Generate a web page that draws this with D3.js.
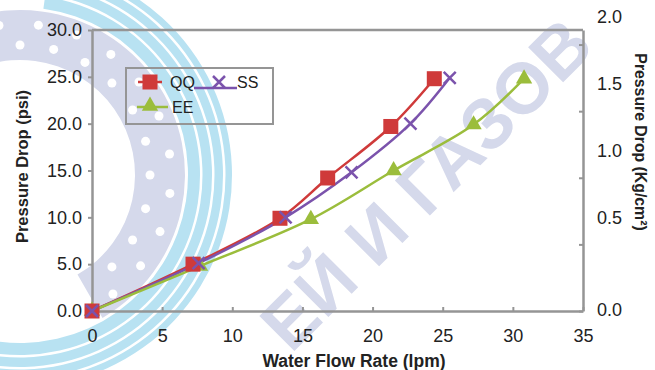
<!DOCTYPE html>
<html>
<head>
<meta charset="utf-8">
<script src="https://cdn.jsdelivr.net/npm/d3@7"></script>
<style>
  html, body { margin: 0; padding: 0; background: #fff; }
  svg { display: block; font-family: Arial, "Liberation Sans", sans-serif; }
</style>
</head>
<body>
<svg id="chart" width="655" height="370"></svg>
<script>
// ---- data -------------------------------------------------------------
const seriesNames = ["QQ", "SS", "EE"];
const qqFlow = [0, 7.2, 13.4, 16.8, 21.3, 24.4];
const qqDrop = [0, 5.0, 9.9, 14.2, 19.7, 24.8];
const ssFlow = [0, 7.6, 13.8, 18.5, 22.7, 25.5];
const ssDrop = [0, 5.1, 10.0, 14.8, 20.0, 24.9];
const eeFlow = [0, 7.7, 15.6, 21.5, 27.2, 30.8];
const eeDrop = [0, 4.8, 9.8, 15.0, 19.9, 24.8];
const flowTicks = [0, 5, 10, 15, 20, 25, 30, 35];
const psiTicks = [0, 5, 10, 15, 20, 25, 30];
const kgTicks = [0, 0.5, 1.0, 1.5, 2.0];
const PSI_PER_KG = 14.223;
const watermarkText = "ЕЙ И ГАЗОВ";

// ---- layout -----------------------------------------------------------
const plot = { left: 92, right: 583, top: 30, bottom: 311 };
const AXIS = "#959595";
const TEXT = "#222";
const colors = { QQ: "#cf3a3a", SS: "#7b53ac", EE: "#9bbd3c" };

const svg = d3.select("#chart");

const x = d3.scaleLinear().domain([0, 35]).range([plot.left, plot.right]);
const y = d3.scaleLinear().domain([0, 30]).range([plot.bottom, plot.top]);
const yKg = d3.scaleLinear().domain([0, 30 / PSI_PER_KG]).range([plot.bottom, plot.top]);
// the kg/cm² labels sit in their own column beside the frame
const kgLabelY = d3.scaleLinear().domain([0, 0.5, 2]).range([310, 218, 17]);

// ---- background watermark --------------------------------------------
const wm = svg.append("g").attr("class", "watermark");
const lav = "#d5d9eb", cyan = "#b8e2f2";
const cx = 20, cy = 175;
const arc = d3.arc();
const deg = Math.PI / 180;
wm.append("path")
  .attr("transform", `translate(${cx},${cy})`)
  .attr("d", arc({ innerRadius: 115, outerRadius: 165, startAngle: -40 * deg, endAngle: 150 * deg }))
  .attr("fill", lav);
wm.append("path")
  .attr("transform", `translate(${cx},${cy})`)
  .attr("d", arc({ innerRadius: 168, outerRadius: 212, startAngle: 8 * deg, endAngle: 190 * deg }))
  .attr("fill", cyan);
[180, 192, 203].forEach(r => {
  wm.append("path")
    .attr("transform", `translate(${cx},${cy})`)
    .attr("d", arc({ innerRadius: r, outerRadius: r + 2.5, startAngle: 8 * deg, endAngle: 190 * deg }))
    .attr("fill", "#fff");
});
d3.range(-30, 145, 15).forEach(a => {
  [130, 151].forEach((r, k) => {
    const t = (a + k * 7) * deg;
    wm.append("circle")
      .attr("cx", cx + r * Math.sin(t))
      .attr("cy", cy - r * Math.cos(t))
      .attr("r", 4.5).attr("fill", "#fff");
  });
});
wm.append("text")
  .attr("transform", "translate(426,184) rotate(-45)")
  .attr("text-anchor", "middle")
  .attr("dy", "0.35em")
  .attr("font-size", 72)
  .attr("font-weight", "bold")
  .attr("textLength", 432)
  .attr("lengthAdjust", "spacing")
  .attr("fill", lav)
  .text(watermarkText);

// ---- frame and axes ---------------------------------------------------
svg.append("line")
  .attr("x1", plot.left).attr("x2", plot.right)
  .attr("y1", plot.top).attr("y2", plot.top)
  .attr("stroke", AXIS).attr("stroke-width", 2.5);

function styleAxis(g) {
  g.select(".domain").attr("stroke", AXIS).attr("stroke-width", 2.5);
  g.selectAll(".tick line").attr("stroke", AXIS).attr("stroke-width", 2);
  g.selectAll(".tick text").attr("fill", TEXT).attr("font-size", 18)
    .attr("font-family", "Arial, 'Liberation Sans', sans-serif");
}

svg.append("g")
  .attr("transform", `translate(${plot.left},0)`)
  .call(d3.axisLeft(y).tickValues(psiTicks).tickFormat(d3.format(".1f"))
    .tickSizeInner(4).tickSizeOuter(0).tickPadding(6))
  .call(styleAxis);

svg.append("g")
  .attr("transform", `translate(${plot.right},0)`)
  .call(d3.axisRight(yKg).tickValues(kgTicks).tickFormat("")
    .tickSizeInner(-4).tickSizeOuter(0))
  .call(styleAxis);

svg.append("g")
  .attr("transform", `translate(0,${plot.bottom})`)
  .call(d3.axisBottom(x).tickValues(flowTicks).tickFormat(d3.format("d"))
    .tickSizeInner(-4).tickSizeOuter(0).tickPadding(18))
  .call(styleAxis);

svg.append("g").selectAll("text")
  .data(kgTicks)
  .join("text")
  .attr("x", 597)
  .attr("y", d => kgLabelY(d))
  .attr("dy", "0.35em")
  .attr("font-size", 18)
  .attr("fill", TEXT)
  .text(d3.format(".1f"));

// axis titles
svg.append("text")
  .attr("transform", `translate(28,${(90 + 243) / 2}) rotate(-90)`)
  .attr("text-anchor", "middle")
  .attr("font-size", 16.5).attr("font-weight", "bold").attr("fill", TEXT)
  .text("Pressure Drop (psi)");

svg.append("text")
  .attr("transform", `translate(635,142) rotate(90)`)
  .attr("text-anchor", "middle")
  .attr("font-size", 15.8).attr("font-weight", "bold").attr("fill", TEXT)
  .text("Pressure Drop (Kg/cm²)");

svg.append("text")
  .attr("x", 354).attr("y", 366.5)
  .attr("text-anchor", "middle")
  .attr("font-size", 17.5).attr("font-weight", "bold").attr("fill", TEXT)
  .text("Water Flow Rate (lpm)");

// ---- series -----------------------------------------------------------
const series = [
  { name: "QQ", pts: qqFlow.map((f, i) => [f, qqDrop[i]]) },
  { name: "SS", pts: ssFlow.map((f, i) => [f, ssDrop[i]]) },
  { name: "EE", pts: eeFlow.map((f, i) => [f, eeDrop[i]]) }
];

const line = d3.line()
  .x(d => x(d[0])).y(d => y(d[1]))
  .curve(d3.curveCatmullRom);

svg.append("g").selectAll("path")
  .data(series)
  .join("path")
  .attr("d", d => line(d.pts))
  .attr("fill", "none")
  .attr("stroke", d => colors[d.name])
  .attr("stroke-width", 2.5);

function drawMarker(g, name, px, py) {
  if (name === "QQ") {
    g.append("rect").attr("x", px - 7.5).attr("y", py - 7.5)
      .attr("width", 15).attr("height", 15).attr("fill", colors.QQ);
  } else if (name === "SS") {
    const s = 6;
    g.append("path")
      .attr("d", `M${px - s},${py - s}L${px + s},${py + s}M${px - s},${py + s}L${px + s},${py - s}`)
      .attr("stroke", colors.SS).attr("stroke-width", 2.5).attr("fill", "none");
  } else {
    g.append("path")
      .attr("transform", `translate(${px},${py})`)
      .attr("d", d3.symbol(d3.symbolTriangle, 115)())
      .attr("fill", colors.EE);
  }
}

const markers = svg.append("g");
["EE", "QQ", "SS"].forEach(n => {
  const s = series.find(d => d.name === n);
  s.pts.forEach(p => drawMarker(markers, n, x(p[0]), y(p[1])));
});

// ---- legend -----------------------------------------------------------
const lg = svg.append("g");
lg.append("rect")
  .attr("x", 126).attr("y", 68).attr("width", 147).attr("height", 56)
  .attr("fill", "none").attr("stroke", AXIS).attr("stroke-width", 2);

const legendItems = [
  { name: "QQ", x1: 138, x2: 162, ly: 82, mx: 150, my: 82, tx: 170, ty: 82 },
  { name: "SS", x1: 194, x2: 237, ly: 88, mx: 219, my: 82, tx: 237, ty: 82 },
  { name: "EE", x1: 137, x2: 168, ly: 107, mx: 150, my: 106, tx: 172, ty: 107 }
];
legendItems.forEach(it => {
  lg.append("line")
    .attr("x1", it.x1).attr("x2", it.x2).attr("y1", it.ly).attr("y2", it.ly)
    .attr("stroke", colors[it.name]).attr("stroke-width", 2.5);
  drawMarker(lg, it.name, it.mx, it.my);
  lg.append("text")
    .attr("x", it.tx).attr("y", it.ty).attr("dy", "0.35em")
    .attr("font-size", 16).attr("fill", TEXT)
    .text(seriesNames[seriesNames.indexOf(it.name)]);
});
</script>
</body>
</html>
